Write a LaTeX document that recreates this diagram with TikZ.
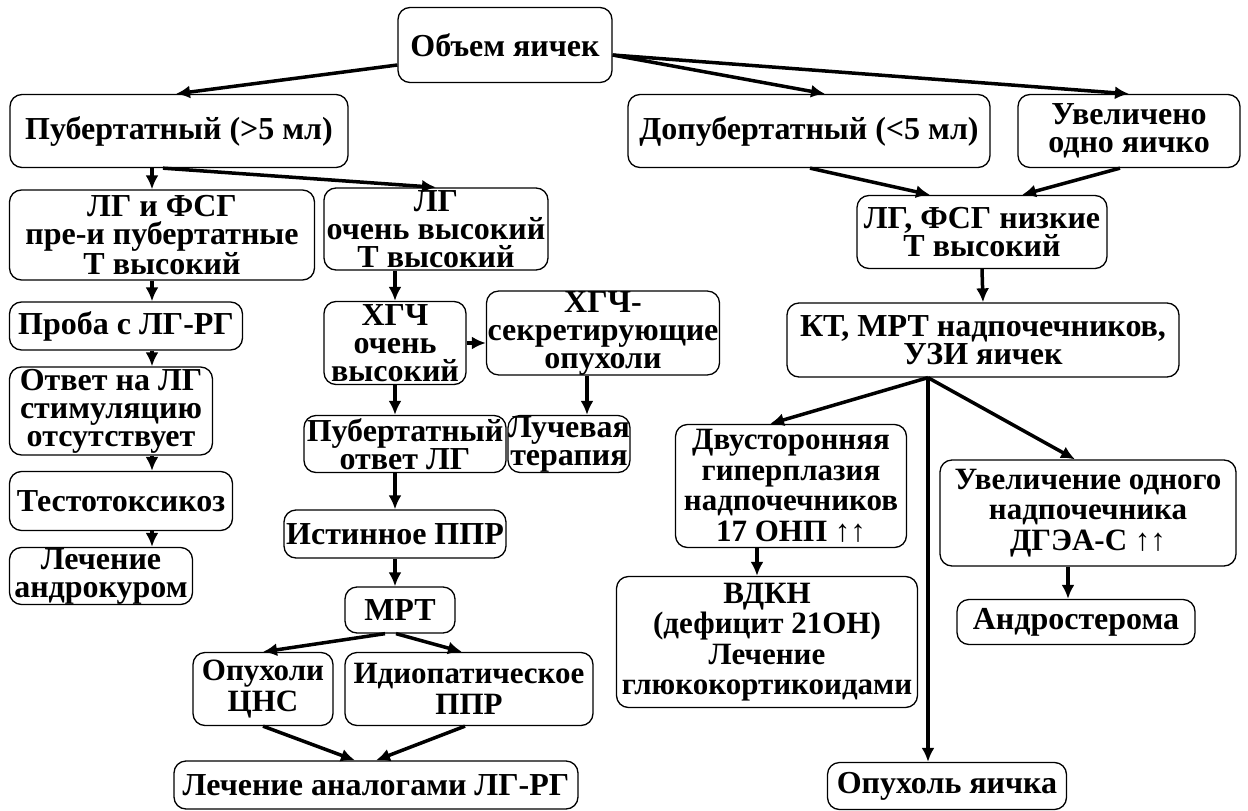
\documentclass[tikz,border=0pt]{standalone}
\usepackage{fontspec}
\setmainfont{Liberation Serif}
\usetikzlibrary{arrows.meta}
\tikzset{>={Latex[length=14pt, width=13pt]}}
\tikzstyle{block} = [rectangle, rounded corners = 12pt, draw = black, line width = 1.3pt, align = center, inner sep = 0pt, font = \bfseries\fontsize{32}{28}\selectfont]
\tikzstyle{loose} = [font = \bfseries\fontsize{31}{30.5}\selectfont]
\tikzstyle{link} = [->, line width = 3.5pt]

\begin{document}
\begin{tikzpicture}[x = 1pt, y = -1pt]
    \useasboundingbox (0,0) rectangle (1248,811);
    \node (volume) [block, minimum width = 214pt, minimum height = 75pt] at (505,45) {Объем яичек};
    \node (pub) [block, minimum width = 338pt, minimum height = 73pt] at (179,131) {Пубертатный (>5 мл)};
    \node (prepub) [block, minimum width = 362pt, minimum height = 73pt] at (809,131) {Допубертатный (<5 мл)};
    \node (onetestis) [block, minimum width = 222pt, minimum height = 73pt] at (1129,131) {Увеличено\\одно яичко};
    \node (lhfsh) [block, minimum width = 305pt, minimum height = 90pt] at (162,235) {ЛГ и ФСГ\\пре-и пубертатные\\Т высокий};
    \node (lhhigh) [block, minimum width = 224pt, minimum height = 82pt] at (436,229) {ЛГ\\очень высокий\\Т высокий};
    \node (lhlow) [block, minimum width = 250pt, minimum height = 73pt] at (982,232) {ЛГ, ФСГ низкие\\Т высокий};
    \node (test) [block, minimum width = 233pt, minimum height = 48pt] at (126,326) {Проба с ЛГ-РГ};
    \node (hcg) [block, minimum width = 142pt, minimum height = 83pt] at (395,343) {ХГЧ\\очень\\высокий};
    \node (hcgtumor) [block, minimum width = 233pt, minimum height = 83pt] at (603,333) {ХГЧ-\\секретирующие\\опухоли};
    \node (ct) [block, minimum width = 392pt, minimum height = 74pt] at (983,340) {КТ, МРТ надпочечников,\\УЗИ яичек};
    \node (noresp) [block, minimum width = 203pt, minimum height = 88pt] at (111,411) {Ответ на ЛГ\\стимуляцию\\отсутствует};
    \node (pubresp) [block, minimum width = 202pt, minimum height = 57pt] at (405,444) {Пубертатный\\ответ ЛГ};
    \node (radio) [block, minimum width = 106pt, minimum height = 57pt] at (569,444) {Лучевая\\терапия};
    \node (bilat) [block, loose, minimum width = 231pt, minimum height = 123pt] at (791,486) {Двусторонняя\\гиперплазия\\надпочечников\\17 ОНП ↑↑};
    \node (oneadr) [block, loose, minimum width = 296pt, minimum height = 106pt] at (1088,513) {Увеличение одного\\надпочечника\\ДГЭА-С ↑↑};
    \node (toxic) [block, minimum width = 223pt, minimum height = 59pt] at (121,501) {Тестотоксикоз};
    \node (truepp) [block, minimum width = 222pt, minimum height = 48pt] at (395,534) {Истинное ППР};
    \node (cypro) [block, minimum width = 183pt, minimum height = 57pt] at (101,576) {Лечение\\андрокуром};
    \node (mri) [block, minimum width = 110pt, minimum height = 46pt] at (400,610) {МРТ};
    \node (andro) [block, minimum width = 238pt, minimum height = 45pt] at (1076,622) {Андростерома};
    \node (cah) [block, loose, minimum width = 301pt, minimum height = 131pt] at (767,642) {ВДКН\\(дефицит 21ОН)\\Лечение\\глюкокортикоидами};
    \node (cns) [block, loose, minimum width = 140pt, minimum height = 73pt] at (263,689) {Опухоли\\ЦНС};
    \node (idio) [block, loose, minimum width = 248pt, minimum height = 73pt] at (469,689) {Идиопатическое\\ППР};
    \node (analog) [block, minimum width = 404pt, minimum height = 48pt] at (376,785) {Лечение аналогами ЛГ-РГ};
    \node (tumor) [block, minimum width = 239pt, minimum height = 47pt] at (947,786) {Опухоль яичка};
    \draw [link] ([yshift=-20pt]volume.west) -- ([xshift=-3pt]pub.north);
    \draw [link] ([yshift=-10pt]volume.east) -- ([xshift=16pt]prepub.north);
    \draw [link] ([yshift=-10pt]volume.east) -- (onetestis.north);
    \draw [link] ([xshift=1pt]prepub.south) -- ([xshift=-52pt]lhlow.north);
    \draw [link] ([xshift=-9pt]onetestis.south) -- ([xshift=40pt]lhlow.north);
    \draw [link] ([xshift=-27pt]pub.south) -- ([xshift=-10pt]lhfsh.north);
    \draw [link] ([xshift=-16pt]pub.south) -- (lhhigh.north);
    \draw [link] ([xshift=-10pt]lhfsh.south) -- ([xshift=26pt]test.north);
    \draw [link] ([xshift=26pt]test.south) -- ([xshift=41pt]noresp.north);
    \draw [link] ([xshift=41pt]noresp.south) -- ([xshift=31pt]toxic.north);
    \draw [link] ([xshift=31pt]toxic.south) -- ([xshift=51pt]cypro.north);
    \draw [link] ([xshift=-41pt]lhhigh.south) -- (hcg.north);
    \draw [link] (hcg.east) -- ([yshift=-10pt]hcgtumor.west);
    \draw [link] ([xshift=-16pt]hcgtumor.south) -- ([xshift=18pt]radio.north);
    \draw [link] (hcg.south) -- ([xshift=-10pt]pubresp.north);
    \draw [link] ([xshift=-10pt]pubresp.south) -- (truepp.north);
    \draw [link] (truepp.south) -- ([xshift=-5pt]mri.north);
    \draw [link] ([xshift=-15pt]mri.south) -- (cns.north);
    \draw [link] ([xshift=-4pt]mri.south) -- ([xshift=-7pt]idio.north);
    \draw [link] (cns.south) -- ([xshift=-21pt]analog.north);
    \draw [link] ([xshift=-4pt]idio.south) -- (analog.north);
    \draw [link] (lhlow.south) -- (ct.north);
    \draw [link] ([xshift=-55pt]ct.south) -- ([xshift=-21pt]bilat.north);
    \draw [link] ([xshift=-55pt]ct.south) -- ([xshift=-19pt]tumor.north);
    \draw [link] ([xshift=-55pt]ct.south) -- ([xshift=-13pt]oneadr.north);
    \draw [link] ([xshift=-34pt]bilat.south) -- ([xshift=-10pt]cah.north);
    \draw [link] ([xshift=-20pt]oneadr.south) -- ([xshift=-8pt]andro.north);
\end{tikzpicture}
\end{document}
